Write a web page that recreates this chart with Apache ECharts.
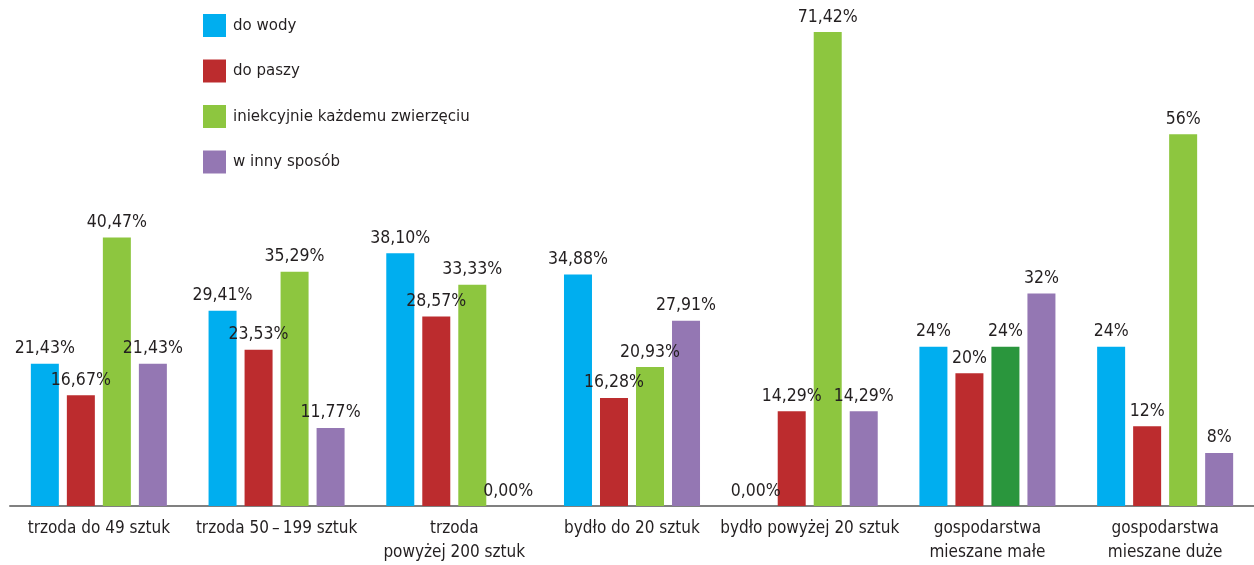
<!DOCTYPE html>
<html>
<head>
<meta charset="utf-8">
<script src="https://cdn.jsdelivr.net/npm/echarts@6/dist/echarts.min.js"></script>
<style>
html,body{margin:0;padding:0;background:#fff;}
#chart{width:1254px;height:565px;}
</style>
</head>
<body>
<div id="chart"></div>
<script>
const categories = [
  'trzoda do 49 sztuk',
  'trzoda 50\u2009–\u2009199 sztuk',
  'trzoda\npowyżej 200 sztuk',
  'bydło do 20 sztuk',
  'bydło powyżej 20 sztuk',
  'gospodarstwa\nmieszane małe',
  'gospodarstwa\nmieszane duże'
];
const seriesNames = ['do wody', 'do paszy', 'iniekcyjnie każdemu zwierzęciu', 'w inny sposób'];
const doWody      = [21.43, 29.41, 38.10, 34.88, 0.00, 24, 24];
const doPaszy     = [16.67, 23.53, 28.57, 16.28, 14.29, 20, 12];
const iniekcyjnie = [40.47, 35.29, 33.33, 20.93, 71.42, 24, 56];
const wInny       = [21.43, 11.77, 0.00, 27.91, 14.29, 32, 8];
const labelDecimals = [2, 2, 2, 2, 2, 0, 0];

const colors = ['#00AEEF', '#BC2C2E', '#8DC63F', '#9477B3'];
const darkGreen = '#2A963D';
const FONT = "'DejaVu Sans Condensed', 'Liberation Sans', Arial, sans-serif";
const TXT = '#231F20';

function fmt(p) {
  const d = labelDecimals[p.dataIndex];
  return p.value.toFixed(d).replace('.', ',') + '%';
}

const allData = [doWody, doPaszy, iniekcyjnie, wInny];
const series = allData.map((arr, i) => ({
  name: seriesNames[i],
  type: 'bar',
  barWidth: 28,
  barGap: '28.6%',
  itemStyle: { color: colors[i] },
  data: arr.map((v, j) => (i === 2 && j === 5) ? { value: v, itemStyle: { color: darkGreen } } : v),
  label: {
    show: true,
    position: 'top',
    distance: 6,
    formatter: fmt,
    fontFamily: FONT,
    fontSize: 17.5,
    color: TXT
  }
}));

const chart = echarts.init(document.getElementById('chart'), null, { renderer: 'canvas' });
chart.setOption({
  animation: false,
  backgroundColor: '#fff',
  color: colors,
  legend: {
    orient: 'vertical',
    left: 203,
    top: 14,
    padding: 0,
    itemWidth: 23,
    itemHeight: 23,
    itemGap: 22.5,
    icon: 'rect',
    textStyle: { fontFamily: FONT, fontSize: 16.7, color: TXT, padding: [0, 0, 0, 2] },
    data: seriesNames
  },
  grid: { left: 10, right: 0, top: 32, bottom: 58, containLabel: false },
  xAxis: {
    type: 'category',
    data: categories,
    axisLine: { show: true, lineStyle: { color: '#808080', width: 2 } },
    axisTick: { show: false },
    axisLabel: {
      interval: 0,
      margin: 11,
      fontFamily: FONT,
      fontSize: 17,
      lineHeight: 24,
      color: TXT,
      align: 'center'
    }
  },
  yAxis: {
    type: 'value',
    min: 0,
    max: 71.42,
    show: false,
    splitLine: { show: false }
  },
  series: series
});
</script>
</body>
</html>
